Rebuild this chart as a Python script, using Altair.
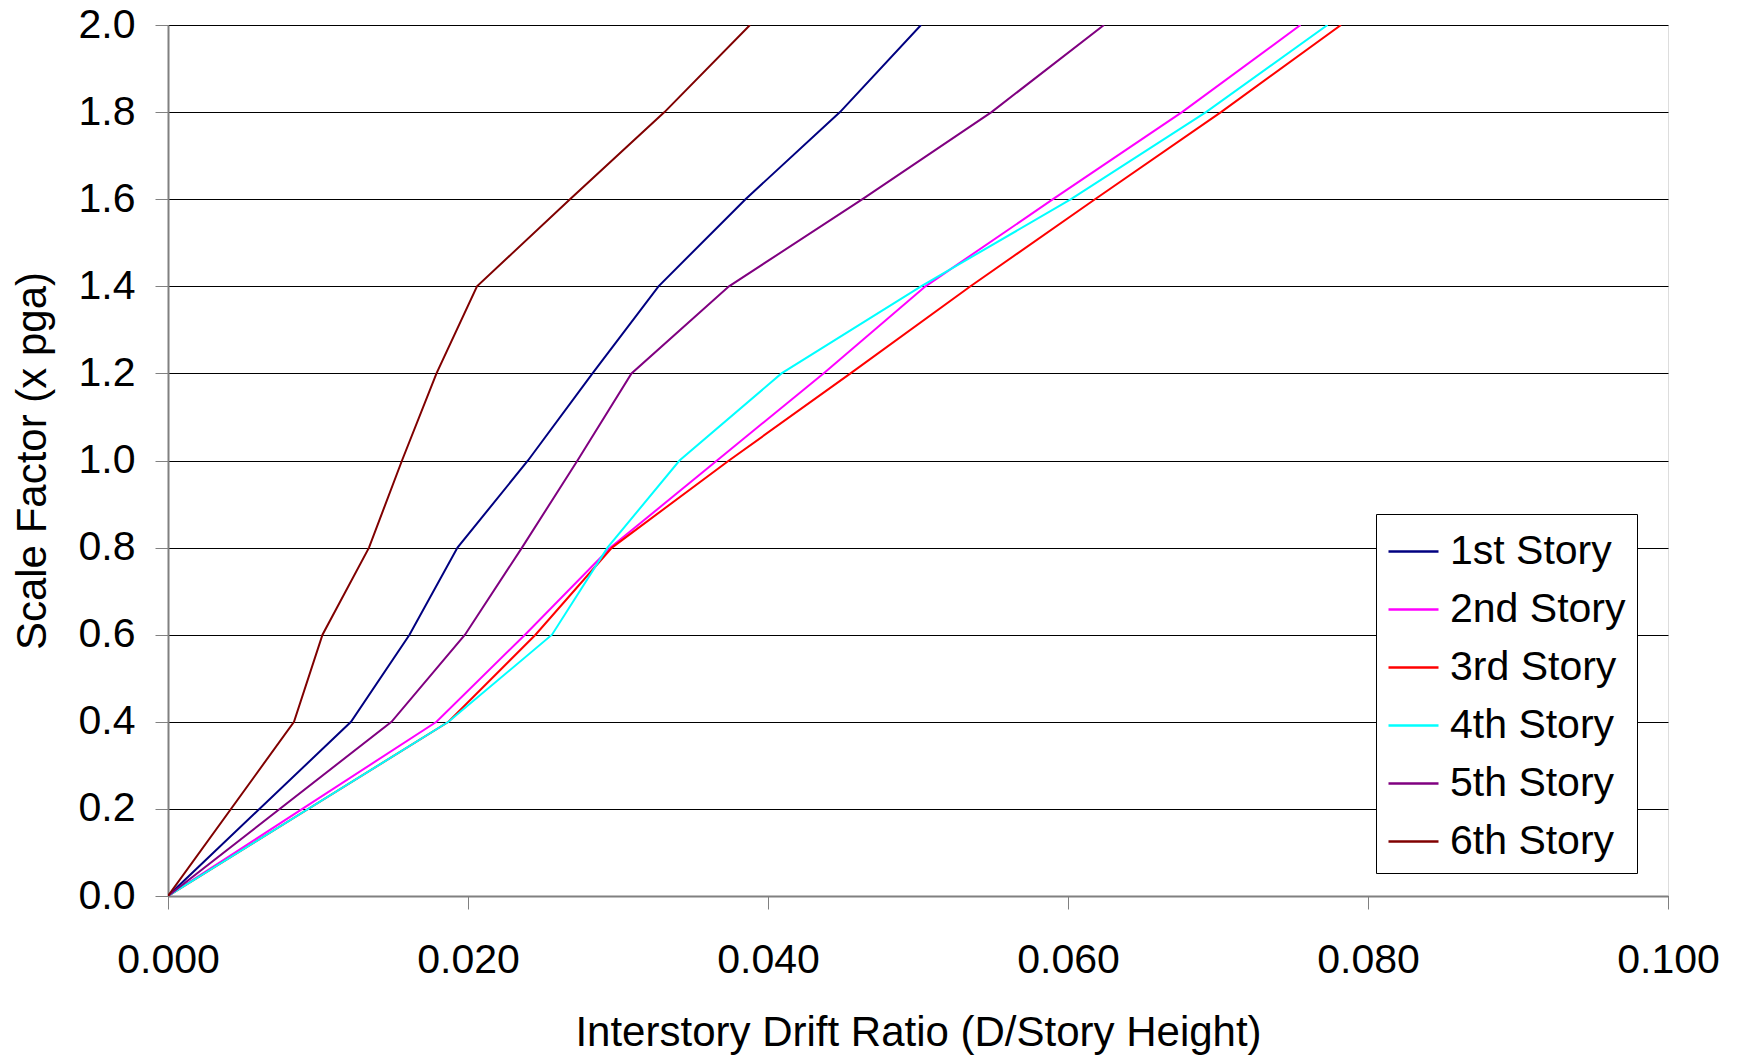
import altair as alt
import pandas as pd

scale_factor = [0.0, 0.4, 0.6, 0.8, 1.0, 1.2, 1.4, 1.6, 1.8, 2.0]

story_1 = [0.0, 0.0122, 0.0161, 0.0193, 0.0240, 0.0283, 0.0327, 0.0385, 0.0448, 0.0502]
story_2 = [0.0, 0.0179, 0.0238, 0.0295, 0.0366, 0.0437, 0.0505, 0.0590, 0.0676, 0.0755]
story_3 = [0.0, 0.0187, 0.0245, 0.0296, 0.0374, 0.0455, 0.0535, 0.0618, 0.0702, 0.0782]
story_4 = [0.0, 0.0187, 0.0256, 0.0293, 0.0341, 0.0409, 0.0502, 0.0602, 0.0692, 0.0773]
story_5 = [0.0, 0.0149, 0.0198, 0.0236, 0.0273, 0.0309, 0.0374, 0.0463, 0.0549, 0.0624]
story_6 = [0.0, 0.0084, 0.0103, 0.0134, 0.0156, 0.0179, 0.0206, 0.0268, 0.0331, 0.0388]

stories = ["1st Story", "2nd Story", "3rd Story", "4th Story", "5th Story", "6th Story"]
colors = ["#000080", "#FF00FF", "#FF0000", "#00FFFF", "#800080", "#800000"]

x_ticks = [0.0, 0.02, 0.04, 0.06, 0.08, 0.1]
y_ticks = [0.0, 0.2, 0.4, 0.6, 0.8, 1.0, 1.2, 1.4, 1.6, 1.8, 2.0]

rows = []
for name, series in zip(stories, [story_1, story_2, story_3, story_4, story_5, story_6]):
    for sf, d in zip(scale_factor, series):
        rows.append({"story": name, "drift": d, "scale": sf})
df = pd.DataFrame(rows)

FONT = "Liberation Sans"

chart = alt.Chart(df).mark_line(strokeWidth=2, clip=True).encode(
    x=alt.X(
        "drift:Q",
        scale=alt.Scale(domain=[0, 0.1], nice=False),
        axis=alt.Axis(
            values=x_ticks,
            format=".3f",
            title="Interstory Drift Ratio (D/Story Height)",
            grid=False,
            tickSize=13,
            tickColor="#808080",
            tickWidth=1,
            labelPadding=31,
            labelFontSize=41,
            labelFont=FONT,
            labelColor="#000000",
            labelFlush=False,
            labelOverlap=False,
            titleFont=FONT,
            titleFontSize=42,
            titleFontWeight="normal",
            titleColor="#000000",
            titleX=750,
            titleY=149,
            titleBaseline="alphabetic",
            titleAlign="center",
            domainColor="#808080",
            domainWidth=2,
        ),
    ),
    y=alt.Y(
        "scale:Q",
        scale=alt.Scale(domain=[0, 2], nice=False),
        axis=alt.Axis(
            values=y_ticks,
            format=".1f",
            title="Scale Factor (x pga)",
            grid=True,
            gridColor="#000000",
            gridWidth=1,
            gridOpacity=1,
            tickSize=13,
            tickColor="#808080",
            tickWidth=1,
            labelPadding=20,
            labelFontSize=41,
            labelFont=FONT,
            labelColor="#000000",
            labelFlush=False,
            labelOverlap=False,
            titleFont=FONT,
            titleFontSize=42,
            titleFontWeight="normal",
            titleColor="#000000",
            titleAngle=270,
            titleX=-123,
            titleY=435.5,
            titleBaseline="alphabetic",
            titleAlign="center",
            domainColor="#808080",
            domainWidth=2,
        ),
    ),
    color=alt.Color(
        "story:N",
        sort=stories,
        scale=alt.Scale(domain=stories, range=colors),
        legend=alt.Legend(
            title=None,
            orient="none",
            legendX=1208,
            legendY=489,
            symbolType="stroke",
            symbolSize=2500,
            symbolStrokeWidth=2.5,
            labelFont=FONT,
            labelFontSize=41,
            labelColor="#000000",
            labelOffset=10,
            labelLimit=500,
            rowPadding=11,
            padding=11,
            strokeColor="#000000",
            fillColor="#FFFFFF",
            cornerRadius=0,
        ),
    ),
    order=alt.Order("scale:Q"),
    detail="story:N",
).properties(
    width=1500,
    height=871,
    autosize=alt.AutoSizeParams(type="none"),
    padding={"left": 160, "top": 17, "right": 60, "bottom": 160},
).configure_view(
    stroke="#808080",
    strokeWidth=2,
).configure(
    background="#FFFFFF",
)

chart.save("out.html", embed_options={"renderer": "svg", "actions": False})

# keep the page from showing scrollbars (the reference crops the title's descenders at the edge)
with open("out.html", "r", encoding="utf-8") as f:
    html = f.read()
html = html.replace("<head>", "<head>\n<style>html, body { overflow: hidden; }</style>", 1)
with open("out.html", "w", encoding="utf-8") as f:
    f.write(html)
